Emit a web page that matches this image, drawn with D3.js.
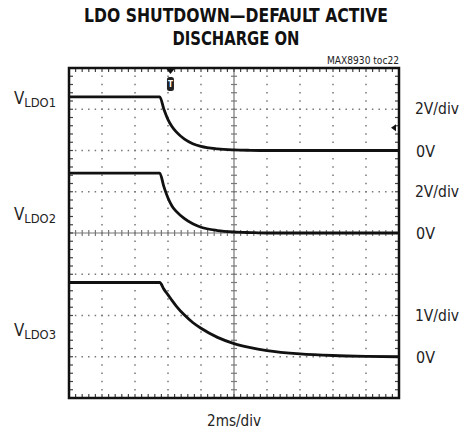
<!DOCTYPE html>
<html>
<head>
<meta charset="utf-8">
<script src="https://cdn.jsdelivr.net/npm/d3@7"></script>
<style>
  body { margin: 0; background: #fff; }
  text { font-family: 'Liberation Sans Narrow', 'Arial Narrow', 'DejaVu Sans Condensed', sans-serif; font-stretch: condensed; fill: #222; }
</style>
</head>
<body>
<svg width="463" height="433"></svg>
<script>
// Time axis (ms), 2ms/div, 10 divisions
var timeMs = [0, 5.5, 5.75, 6, 6.25, 6.5, 7, 7.5, 8, 9, 10, 11, 12, 14, 16, 18, 20]

// Traces (volts)
var vLdo1 = [2.6, 2.6, 2.0, 1.5, 1.15, 0.9, 0.55, 0.33, 0.2, 0.08, 0.03, 0.01, 0, 0, 0, 0, 0]
var vLdo2 = [2.9, 2.9, 2.25, 1.7, 1.3, 1.05, 0.7, 0.45, 0.28, 0.12, 0.05, 0.02, 0, 0, 0, 0, 0]
var vLdo3 = [1.8, 1.8, 1.64, 1.5, 1.36, 1.23, 1.01, 0.83, 0.69, 0.47, 0.32, 0.22, 0.15, 0.07, 0.03, 0.01, 0]

// Channels: name, volts per div, 0V position in divisions from bottom
var channels = ['LDO1', 'LDO2', 'LDO3']
var voltsPerDiv = [2, 2, 1]
var zeroDiv = [6, 4, 1]
var scaleLabels = ['2V/div', '2V/div', '1V/div']

var svg = d3.select('svg')

var x = d3.scaleLinear().domain([0, 20]).range([69, 399])
var y = d3.scaleLinear().domain([0, 8]).range([398, 68])

// Title
svg.append('text')
  .attr('x', 236).attr('y', 22)
  .attr('text-anchor', 'middle')
  .attr('textLength', 304).attr('lengthAdjust', 'spacingAndGlyphs')
  .style('font-size', '20px').style('font-weight', 'bold').style('fill', '#111')
  .text('LDO SHUTDOWN\u2014DEFAULT ACTIVE')
svg.append('text')
  .attr('x', 236).attr('y', 45)
  .attr('text-anchor', 'middle')
  .attr('textLength', 127).attr('lengthAdjust', 'spacingAndGlyphs')
  .style('font-size', '20px').style('font-weight', 'bold').style('fill', '#111')
  .text('DISCHARGE ON')
svg.append('text')
  .attr('x', 399).attr('y', 64)
  .attr('text-anchor', 'end')
  .attr('textLength', 72).attr('lengthAdjust', 'spacingAndGlyphs')
  .style('font-size', '10px')
  .text('MAX8930 toc22')

// Grid
var grid = svg.append('g').attr('fill', '#777')
var minorX = d3.range(0, 20.001, 0.4)
var minorY = d3.range(0, 8.001, 0.2)
d3.range(1, 10).forEach(function(i) {
  if (i === 5) return
  grid.selectAll(null).data(minorY).enter().append('rect')
    .attr('x', x(i * 2) - 0.75).attr('y', function(d) { return y(d) - 0.75 })
    .attr('width', 1.5).attr('height', 1.5)
})
d3.range(1, 8).forEach(function(j) {
  if (j === 4) return
  grid.selectAll(null).data(minorX).enter().append('rect')
    .attr('x', function(d) { return x(d) - 0.75 }).attr('y', y(j) - 0.75)
    .attr('width', 1.5).attr('height', 1.5)
})

// Center lines with ticks
var axes = svg.append('g').attr('stroke', '#777').attr('stroke-width', 1.2)
axes.append('line').attr('x1', x(10)).attr('x2', x(10)).attr('y1', y(0)).attr('y2', y(8))
axes.append('line').attr('x1', x(0)).attr('x2', x(20)).attr('y1', y(4)).attr('y2', y(4))
axes.selectAll(null).data(minorY).enter().append('line')
  .attr('x1', x(10) - 3).attr('x2', x(10) + 3)
  .attr('y1', function(d) { return y(d) }).attr('y2', function(d) { return y(d) })
axes.selectAll(null).data(minorX).enter().append('line')
  .attr('y1', y(4) - 3).attr('y2', y(4) + 3)
  .attr('x1', function(d) { return x(d) }).attr('x2', function(d) { return x(d) })

// Edge ticks
var edge = svg.append('g').attr('stroke', '#444').attr('stroke-width', 1.2)
minorX.forEach(function(d) {
  edge.append('line').attr('x1', x(d)).attr('x2', x(d)).attr('y1', y(8)).attr('y2', y(8) + 4)
  edge.append('line').attr('x1', x(d)).attr('x2', x(d)).attr('y1', y(0)).attr('y2', y(0) - 4)
})
minorY.forEach(function(d) {
  edge.append('line').attr('y1', y(d)).attr('y2', y(d)).attr('x1', x(0)).attr('x2', x(0) + 4)
  edge.append('line').attr('y1', y(d)).attr('y2', y(d)).attr('x1', x(20)).attr('x2', x(20) - 4)
})

// Frame
svg.append('rect')
  .attr('x', x(0)).attr('y', y(8))
  .attr('width', x(20) - x(0)).attr('height', y(0) - y(8))
  .attr('fill', 'none').attr('stroke', '#111').attr('stroke-width', 2.5)

// Traces
var traces = [vLdo1, vLdo2, vLdo3]
traces.forEach(function(vals, k) {
  var line = d3.line()
    .x(function(d, i) { return x(timeMs[i]) })
    .y(function(d) { return y(zeroDiv[k] + d / voltsPerDiv[k]) })
    .curve(d3.curveMonotoneX)
  svg.append('path')
    .datum(vals)
    .attr('d', line)
    .attr('fill', 'none')
    .attr('stroke', '#111')
    .attr('stroke-width', 2.8)
})

// Trigger marker (top) and level marker (right)
var trigT = 6.15
svg.append('path')
  .attr('d', 'M' + (x(trigT) - 4) + ',' + (y(8) + 1) + 'h8l-4,5z')
  .attr('fill', '#111')
svg.append('rect')
  .attr('x', x(trigT) - 3.5).attr('y', y(8) + 9)
  .attr('width', 7).attr('height', 14).attr('rx', 2.5)
  .attr('fill', '#222')
svg.append('text')
  .attr('x', x(trigT)).attr('y', y(8) + 19)
  .attr('text-anchor', 'middle')
  .style('font-size', '8px').style('font-weight', 'bold').style('fill', '#fff')
  .text('T')
svg.append('path')
  .attr('d', 'M' + (x(20) - 3) + ',' + (y(6.55) - 3.5) + 'v7l-5,-3.5z')
  .attr('fill', '#111')

// Channel labels
var labelY = [104, 220, 336]
channels.forEach(function(c, k) {
  var t = svg.append('text')
    .attr('x', 14).attr('y', labelY[k])
    .attr('textLength', 42).attr('lengthAdjust', 'spacingAndGlyphs')
    .style('font-size', '17px')
  t.append('tspan').text('V')
  t.append('tspan').attr('dy', 3).style('font-size', '13px').text(c)
})

// Right labels
scaleLabels.forEach(function(s, k) {
  svg.append('text')
    .attr('x', 415).attr('y', y(zeroDiv[k] + 1) + 5)
    .attr('textLength', 44).attr('lengthAdjust', 'spacingAndGlyphs')
    .style('font-size', '16px')
    .text(s)
  svg.append('text')
    .attr('x', 416).attr('y', y(zeroDiv[k]) + 6)
    .style('font-size', '16px')
    .text('0V')
})

// x scale label
svg.append('text')
  .attr('x', x(10)).attr('y', 426)
  .attr('text-anchor', 'middle')
  .attr('textLength', 54).attr('lengthAdjust', 'spacingAndGlyphs')
  .style('font-size', '16px')
  .text('2ms/div')
</script>
</body>
</html>
